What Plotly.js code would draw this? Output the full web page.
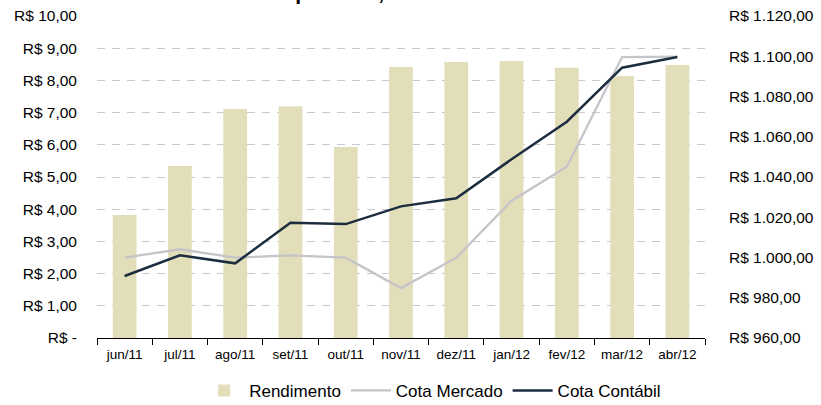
<!DOCTYPE html>
<html>
<head>
<meta charset="utf-8">
<script src="https://cdn.plot.ly/plotly-3.0.1.min.js"></script>
<style>html,body{margin:0;padding:0;background:#fff;}#chart{width:821px;height:405px;}</style>
</head>
<body>
<div id="chart"></div>
<script>
const categories = ['jun/11','jul/11','ago/11','set/11','out/11','nov/11','dez/11','jan/12','fev/12','mar/12','abr/12'];
const rendimento = [3.82, 5.34, 7.11, 7.20, 5.93, 8.42, 8.57, 8.60, 8.39, 8.14, 8.48];
const cotaMercado = [999.9, 1004.1, 999.9, 1001.1, 999.9, 984.8, 999.9, 1028.2, 1045.1, 1099.6, 1099.8];
const cotaContabil = [990.8, 1001.1, 997.1, 1017.3, 1016.6, 1025.4, 1029.4, 1048.8, 1067.5, 1094.3, 1099.6];
const leftTickVals = [0,1,2,3,4,5,6,7,8,9,10];
const leftTickText = ['R$ -','R$ 1,00','R$ 2,00','R$ 3,00','R$ 4,00','R$ 5,00','R$ 6,00','R$ 7,00','R$ 8,00','R$ 9,00','R$ 10,00'];
const rightTickVals = [960,980,1000,1020,1040,1060,1080,1100,1120];
const rightTickText = ['R$ 960,00','R$ 980,00','R$ 1.000,00','R$ 1.020,00','R$ 1.040,00','R$ 1.060,00','R$ 1.080,00','R$ 1.100,00','R$ 1.120,00'];

const FONT = 'Liberation Sans, Arial, sans-serif';

const traces = [
  {type:'bar', name:'Rendimento', x:categories, y:rendimento, yaxis:'y',
   marker:{color:'#E2DEB9'}, width:0.43},
  {type:'scatter', mode:'lines', name:'Cota Mercado', x:categories, y:cotaMercado, yaxis:'y2',
   line:{color:'#C4C4C9', width:2.3}},
  {type:'scatter', mode:'lines', name:'Cota Contábil', x:categories, y:cotaContabil, yaxis:'y2',
   line:{color:'#1B2D3E', width:2.5}}
];

const layout = {
  width:821, height:405,
  margin:{l:97, r:116, t:16, b:67, pad:0},
  paper_bgcolor:'#fff', plot_bgcolor:'#fff',
  font:{family:FONT, color:'#000'},
  title:{text:'Rendimento por cota, valor de mercado e contábil', font:{family:FONT, size:21, weight:'bold', color:'#000'},
         xref:'container', yref:'container', x:0.509, xanchor:'center', y:1, yanchor:'bottom', pad:{t:0,b:0,l:0,r:0}},
  showlegend:true,
  legend:{orientation:'h', xref:'container', yref:'container', x:0.527, xanchor:'center', y:0.035, yanchor:'middle',
          font:{family:FONT, size:17, color:'#000'}, itemwidth:40, bgcolor:'rgba(0,0,0,0)'},
  bargap:0.57,
  xaxis:{type:'category', showline:true, linecolor:'#000', linewidth:1, ticks:'outside', ticklen:6, tickcolor:'#000',
         tickson:'boundaries', showgrid:false, zeroline:false, ticklabelstandoff:4,
         tickfont:{family:FONT, size:13.5, color:'#000'}, fixedrange:true},
  yaxis:{range:[0,10], tickvals:leftTickVals, ticktext:leftTickText, showgrid:true, gridcolor:'#C9C9CD', gridwidth:1,
         griddash:'8px,7px', zeroline:false, showline:false, ticks:'', ticklabelstandoff:19,
         tickfont:{family:FONT, size:15.5, color:'#000'}, fixedrange:true},
  yaxis2:{range:[960,1120], tickvals:rightTickVals, ticktext:rightTickText, overlaying:'y', side:'right',
          showgrid:false, zeroline:false, showline:false, ticks:'', ticklabelstandoff:23,
          tickfont:{family:FONT, size:15.5, color:'#000'}, fixedrange:true}
};

Plotly.newPlot('chart', traces, layout, {displayModeBar:false, staticPlot:true});
</script>
</body>
</html>
